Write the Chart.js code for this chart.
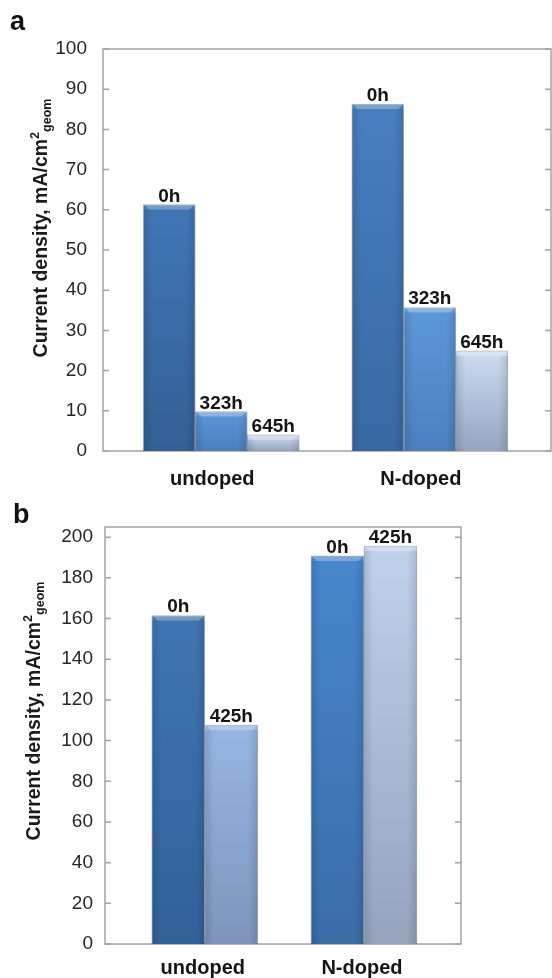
<!DOCTYPE html>
<html>
<head>
<meta charset="utf-8">
<script src="https://cdn.jsdelivr.net/npm/chart.js@4.4.1/dist/chart.umd.min.js"></script>
<style>
    body { margin: 0; background: #fff; }
    #page { position: relative; width: 552px; height: 978px; overflow: hidden; font-family: "Liberation Sans", Arial, sans-serif; color: #111; }
    .panel { position: absolute; left: 0; width: 552px; }
    .letter { position: absolute; font-weight: bold; font-size: 27px; line-height: 27px; }
    .ytitle { position: absolute; width: 320px; height: 24px; line-height: 24px; text-align: center; font-weight: bold; font-size: 19.5px; transform: rotate(-90deg); white-space: nowrap; color: #1a1a1a; }
    .ytitle sup, .ytitle sub { font-size: 12.5px; }
</style>
</head>
<body>
<div id="page">
    <div class="panel" style="top:0; height:500px;"><canvas id="chartA"></canvas></div>
    <div class="panel" style="top:490px; height:488px;"><canvas id="chartB"></canvas></div>
    <div class="letter" style="left:10px; top:8px;">a</div>
    <div class="letter" style="left:13px; top:501px;">b</div>
    <div class="ytitle" style="left:-125px; top:216px;">Current density, mA/cm<sup>2</sup><sub>geom</sub></div>
    <div class="ytitle" style="left:-132px; top:699px;">Current density, mA/cm<sup>2</sup><sub>geom</sub></div>
</div>
<script>
// du lieu doc tu hinh
var categories = ['undoped', 'N-doped'];

// panel a
var seriesA = ['0h', '323h', '645h'];
var a0h = [61.3, 86.3];
var a323h = [9.8, 35.7];
var a645h = [4.0, 24.9];
var ticksA = [0, 10, 20, 30, 40, 50, 60, 70, 80, 90, 100];

// panel b
var seriesB = ['0h', '425h'];
var b0h = [161.5, 190.8];
var b425h = [107.6, 195.6];
var ticksB = [0, 20, 40, 60, 80, 100, 120, 140, 160, 180, 200];

// mau (tren, duoi) cho tung cot
var colorsA = [
    [['#4077b6', '#335f95'], ['#477fc0', '#3868a2']],
    [['#5b98da', '#4a7fbe'], ['#5c98d8', '#4a80bf']],
    [['#cddcf0', '#95a5c0'], ['#cddcf0', '#95a5c0']]
];
var colorsB = [
    [['#3f75b2', '#32619a'], ['#4787cc', '#3a6ca8']],
    [['#97b6e4', '#7d95bd'], ['#c0d1ec', '#95a3bd']]
];

var FONT = '"Liberation Sans", Arial, sans-serif';

function gradientFill(colors) {
    return function (ctx) {
        var c = colors[ctx.dataIndex] || colors[0];
        var chart = ctx.chart;
        if (!chart.chartArea || ctx.type !== 'data') return c[0];
        var y = chart.scales.y;
        var top = y.getPixelForValue(ctx.raw.y);
        var bottom = y.getPixelForValue(0);
        if (!isFinite(top) || bottom - top < 1) return c[0];
        var g = chart.ctx.createLinearGradient(0, top, 0, bottom);
        g.addColorStop(0, c[0]);
        g.addColorStop(1, c[1]);
        return g;
    };
}

function makeDatasets(labels, values, colors) {
    return labels.map(function (lab, i) {
        return {
            label: lab,
            data: categories.map(function (c, j) { return { x: j, y: values[i][j] }; }),
            backgroundColor: gradientFill(colors[i]),
            borderColor: 'rgba(30, 50, 85, 0.35)',
            borderWidth: 1
        };
    });
}

// khung, vach chia huong vao trong, nhan cot, hieu ung vat canh
var decor = {
    id: 'decor',
    beforeDatasetsDraw: function (chart) {
        var ctx = chart.ctx, a = chart.chartArea, y = chart.scales.y;
        ctx.save();
        ctx.strokeStyle = '#a4a4a4';
        ctx.lineWidth = 1.5;
        ctx.strokeRect(a.left, a.top, a.right - a.left, a.bottom - a.top);
        ctx.beginPath();
        y.ticks.forEach(function (t) {
            var py = y.getPixelForValue(t.value);
            ctx.moveTo(a.left, py); ctx.lineTo(a.left + 6, py);
            ctx.moveTo(a.right - 6, py); ctx.lineTo(a.right, py);
        });
        ctx.stroke();
        ctx.restore();
    },
    afterDatasetsDraw: function (chart) {
        var ctx = chart.ctx;
        ctx.save();
        chart.data.datasets.forEach(function (ds, i) {
            var meta = chart.getDatasetMeta(i);
            meta.data.forEach(function (el) {
                var w = el.width, l = el.x - w / 2, r = el.x + w / 2;
                var h = el.base - el.y;
                // canh tren sang
                var bev = Math.min(5, h / 2);
                ctx.fillStyle = 'rgba(255,255,255,0.28)';
                ctx.beginPath();
                ctx.moveTo(l + 1, el.y + 0.5);
                ctx.lineTo(r - 1, el.y + 0.5);
                ctx.lineTo(r - 1 - bev, el.y + bev);
                ctx.lineTo(l + 1 + bev, el.y + bev);
                ctx.closePath();
                ctx.fill();
                // hai ben toi hon
                var g = ctx.createLinearGradient(l, 0, r, 0);
                g.addColorStop(0, 'rgba(0,0,0,0.12)');
                g.addColorStop(0.18, 'rgba(0,0,0,0)');
                g.addColorStop(0.82, 'rgba(0,0,0,0)');
                g.addColorStop(1, 'rgba(0,0,0,0.12)');
                ctx.fillStyle = g;
                ctx.fillRect(l, el.y + bev, w, h - bev);
            });
        });
        ctx.fillStyle = '#141414';
        ctx.font = 'bold 19px ' + FONT;
        ctx.textAlign = 'center';
        ctx.textBaseline = 'alphabetic';
        chart.data.datasets.forEach(function (ds, i) {
            chart.getDatasetMeta(i).data.forEach(function (el) {
                ctx.fillText(ds.label, el.x, el.y - 3);
            });
        });
        ctx.restore();
    }
};

function makeChart(id, datasets, opt) {
    return new Chart(document.getElementById(id), {
        type: 'bar',
        data: { datasets: datasets },
        options: {
            responsive: true,
            maintainAspectRatio: false,
            animation: false,
            layout: { padding: opt.padding },
            datasets: { bar: { barThickness: opt.barThickness, grouped: true } },
            scales: {
                x: {
                    type: 'linear',
                    bounds: 'data',
                    offset: false,
                    min: opt.xMin,
                    max: opt.xMax,
                    grid: { display: false, drawTicks: false, offset: false },
                    border: { display: false },
                    afterBuildTicks: function (s) {
                        s.ticks = categories.map(function (c, j) { return { value: j }; });
                    },
                    afterFit: function (s) { s.height = opt.xHeight; },
                    ticks: {
                        padding: opt.xPad,
                        labelOffset: opt.labelOffset,
                        autoSkip: false,
                        maxRotation: 0,
                        color: '#141414',
                        font: { family: FONT, size: 20, weight: 'bold' },
                        callback: function (v) { return categories[v]; }
                    }
                },
                y: {
                    min: 0,
                    max: opt.yMax,
                    grid: { display: false, drawTicks: false },
                    border: { display: false },
                    afterBuildTicks: function (s) {
                        s.ticks = opt.yTicks.map(function (v) { return { value: v }; });
                    },
                    afterFit: function (s) { s.width = opt.yWidth; },
                    ticks: {
                        padding: opt.yPad,
                        color: '#262626',
                        font: { family: FONT, size: 19 }
                    }
                }
            },
            plugins: {
                legend: { display: false },
                tooltip: { enabled: false }
            }
        },
        plugins: [decor]
    });
}

makeChart('chartA', makeDatasets(seriesA, [a0h, a323h, a645h], colorsA), {
    padding: { top: 49, right: 1, bottom: 0, left: 0 },
    barThickness: 52,
    xMin: -0.567, xMax: 1.581,
    xHeight: 49, xPad: 16, labelOffset: -9,
    yMax: 100, yTicks: ticksA, yWidth: 103, yPad: 16
});

makeChart('chartB', makeDatasets(seriesB, [b0h, b425h], colorsB), {
    padding: { top: 37, right: 91, bottom: 0, left: 0 },
    barThickness: 53,
    xMin: -0.627, xMax: 1.61,
    xHeight: 34, xPad: 12, labelOffset: -2,
    yMax: 205, yTicks: ticksB, yWidth: 105, yPad: 12
});
</script>
</body>
</html>
